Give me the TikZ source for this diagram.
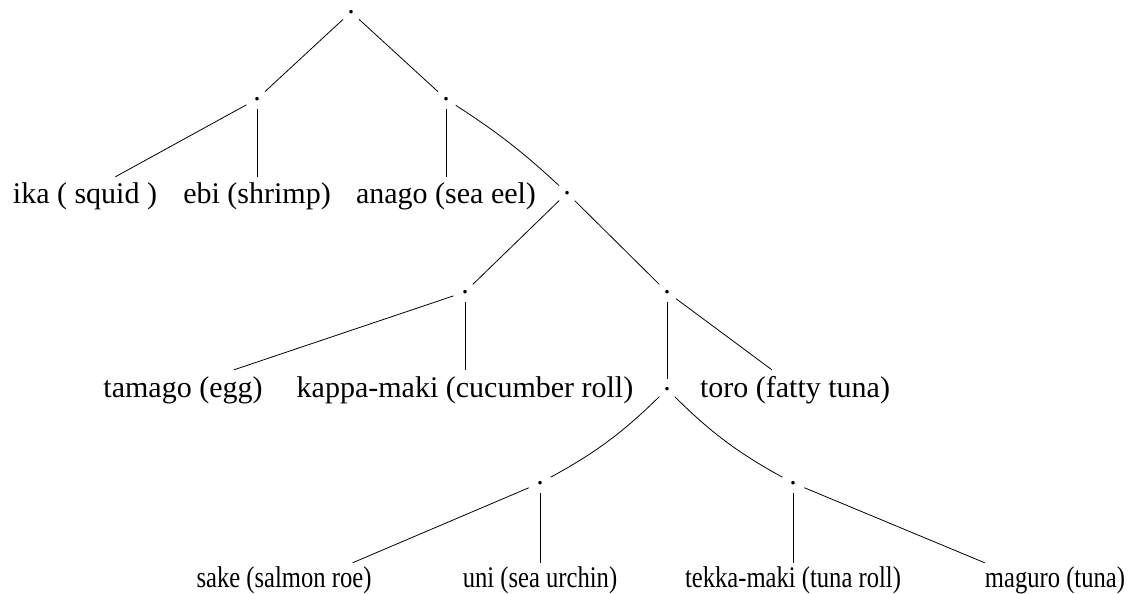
\documentclass[tikz,border=0pt]{standalone}
\usepackage{graphicx}
\usepackage{fontspec}
\setmainfont{Liberation Serif}
% bottom-row labels are set condensed
\newcommand\squeezetext[1]{\scalebox{0.82}[1]{#1}}
\begin{document}
\begin{tikzpicture}[x=1pt,y=-1pt,
  branch/.style={inner sep=0pt, font=\fontsize{30}{36}\selectfont},
  leaf/.style={anchor=base, inner xsep=0pt, inner ysep=0pt, text height=26pt, text depth=7pt, font=\fontsize{30}{36}\selectfont},
  leafm/.style={leaf, text height=27pt},
  leafb/.style={leaf, text height=24pt, text depth=34pt},
  edge/.style={draw, line width=0.8pt, shorten <=8pt},
  link/.style={edge, shorten >=8pt}]
\useasboundingbox (0,0) rectangle (1128,594);

% internal nodes
\node[branch] (n0) at (351,12) {.};
\node[branch] (n1) at (257,99) {.};
\node[branch] (n2) at (446,99) {.};
\node[branch] (n3) at (567,193) {.};
\node[branch] (n4) at (465,292) {.};
\node[branch] (n5) at (667,292) {.};
\node[branch] (n6) at (667,389) {.};
\node[branch] (n7) at (540,483) {.};
\node[branch] (n8) at (793,483) {.};

% leaves
\node[leaf] (ika) at (85,203) {ika ( squid )};
\node[leaf] (ebi) at (257,203) {ebi (shrimp)};
\node[leaf] (anago) at (446,203) {anago (sea eel)};
\node[leafm] (tamago) at (183,397) {tamago (egg)};
\node[leafm] (kappa) at (465,397) {kappa-maki (cucumber roll)};
\node[leafm] (toro) at (795,397) {toro (fatty tuna)};
\node[leafb] (sake) at (284,587) {\squeezetext{sake (salmon roe)}};
\node[leafb] (uni) at (540,587) {\squeezetext{uni (sea urchin)}};
\node[leafb] (tekka) at (793,587) {\squeezetext{tekka-maki (tuna roll)}};
\node[leafb] (maguro) at (1055,587) {\squeezetext{maguro (tuna)}};

% branches
\draw[link] (n0) -- (n1);
\draw[link] (n0) -- (n2);
\draw[edge] (n1) -- (ika);
\draw[edge] (n1) -- (ebi);
\draw[edge] (n2) -- (anago);
\draw[link] (n2) to[bend left=5] (n3);
\draw[link] (n3) -- (n4);
\draw[link] (n3) -- (n5);
\draw[edge] (n4) -- (tamago);
\draw[edge] (n4) -- (kappa);
\draw[link] (n5) -- (n6);
\draw[edge] (n5) -- (toro);
\draw[link] (n6) to[bend left=8] (n7);
\draw[link] (n6) to[bend right=8] (n8);
\draw[edge] (n7) -- (sake);
\draw[edge] (n7) -- (uni);
\draw[edge] (n8) -- (tekka);
\draw[edge] (n8) -- (maguro);
\end{tikzpicture}
\end{document}
